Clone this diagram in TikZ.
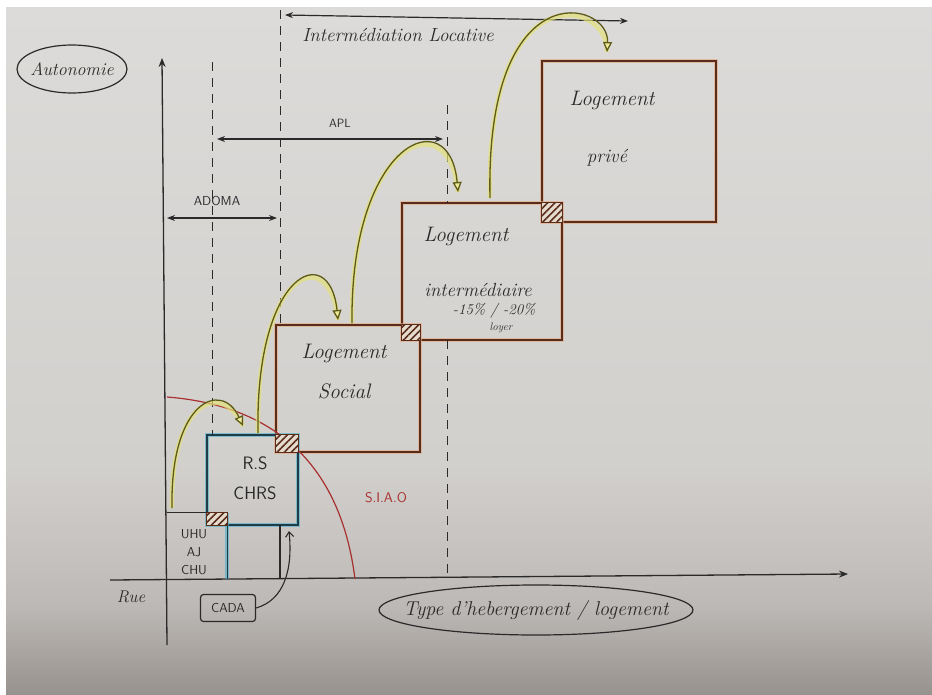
\documentclass[tikz,border=0pt]{standalone}
\usepackage{fontspec}
\usetikzlibrary{arrows.meta,patterns.meta,calc,shapes.geometric}
\definecolor{inkc}{HTML}{2A2A2A}
\definecolor{brownc}{HTML}{5A2C1C}
\definecolor{glowor}{HTML}{E3A67C}
\definecolor{tealc}{HTML}{1E3C4A}
\definecolor{tealglow}{HTML}{4AAFC8}
\definecolor{olivec}{HTML}{5E5A18}
\definecolor{yglow}{HTML}{E4E27A}
\definecolor{yfill}{HTML}{EDEB9A}
\definecolor{redc}{HTML}{A8302E}
\definecolor{hatchbg}{HTML}{E6DCCD}
\definecolor{ptop}{HTML}{DDDBD9}
\definecolor{pmid}{HTML}{D2D0CD}
\definecolor{plow}{HTML}{BDB9B6}
\definecolor{pbot}{HTML}{948F8B}
\pgfdeclareverticalshading{papershade}{100bp}{color(0bp)=(pbot); color(25bp)=(pbot); color(32bp)=(plow); color(42bp)=(pmid); color(75bp)=(ptop); color(100bp)=(ptop)}
\tikzset{
  hand/.style={text=inkc, font=\itshape},
  caps/.style={text=inkc, font=\sffamily},
  axisline/.style={draw=inkc, line width=1.3pt, -{Stealth[length=9pt,width=7pt]}},
  guide/.style={draw=inkc, line width=1pt, dash pattern=on 9pt off 7pt},
  span/.style={draw=inkc, line width=1.2pt, {Stealth[length=8pt,width=6pt]}-{Stealth[length=8pt,width=6pt]}},
  housing/.style={rectangle, inner sep=0pt, draw=brownc, line width=1.4pt, preaction={draw=glowor, line width=4.5pt, draw opacity=0.6}},
  shelter/.style={rectangle, inner sep=0pt, draw=tealc, line width=1.4pt, preaction={draw=tealglow, line width=4.5pt, draw opacity=0.6}},
  hatchsq/.style={draw=brownc, line width=1.2pt, preaction={fill=hatchbg}, pattern={Lines[angle=45,distance=5pt,line width=1.6pt]}, pattern color=brownc},
  jump/.style={draw=olivec, line width=1.3pt, -{Triangle[length=10pt,width=9pt,fill=yfill]}, preaction={draw=yglow, line width=4.5pt, draw opacity=0.7, arrows=-}},
  siao/.style={draw=redc, line width=1.2pt},
  label/.style={draw=inkc, line width=1.2pt}
}
\begin{document}
\begin{tikzpicture}[x=1pt, y=-1pt]
\useasboundingbox (0,0) rectangle (932,694);
\fill[white] (0,0) rectangle (932,694);
\fill[pbot] (6,640) rectangle (932,694);
\shade[shading=papershade] (6,7) rectangle (940,702);

% axes
\coordinate (yb) at (167,645);
\coordinate (yt) at (162,58);
\coordinate (xl) at (110,580);
\coordinate (xr) at (848,574);
\draw[axisline] (yb) -- (yt);
\draw[axisline] (xl) -- (xr);

% boxes
\node[housing, minimum width=174, minimum height=161] (prive) at (629,141.5) {};
\node[housing, minimum width=160, minimum height=137] (inter) at (482,271.5) {};
\node[housing, minimum width=144, minimum height=127] (social) at (348,388.5) {};
\node[shelter, minimum width=91, minimum height=90] (rs) at (252.5,480) {};
\node[minimum width=60, minimum height=66, inner sep=0pt] (uhu) at (197,546) {};

% red SIAO curve
\coordinate (s0) at (167,397);
\coordinate (s1) at (355,579);
\draw[siao] (s0) .. controls (270,405) and (340,460) .. (s1);

% dashed guides
\coordinate (g1t) at (212,62);
\coordinate (g1b) at (212,435);
\coordinate (g2t) at (280,10);
\coordinate (g2b) at (280,325);
\coordinate (g3t) at (447,105);
\coordinate (g3m) at (447,203);
\coordinate (g3n) at (447,340);
\coordinate (g3b) at (447,578);
\draw[guide] (g1t) -- (g1b);
\draw[guide] (g2t) -- (g2b);
\draw[guide] (g3t) -- (g3m);
\draw[guide] (g3n) -- (g3b);

% UHU box sides
\draw[draw=inkc, line width=1.3pt] (uhu.north west) -- (uhu.north east);
\draw[draw=tealc, line width=1.3pt, preaction={draw=tealglow, line width=4pt, draw opacity=0.6}] (uhu.north east) -- (uhu.south east);
\coordinate (rsb) at (280,525);
\coordinate (rsa) at (280,579);
\draw[draw=inkc, line width=1.3pt] (rsb) -- (rsa);

% hatched overlaps
\draw[hatchsq] (rs.south west) rectangle (uhu.north east);
\draw[hatchsq] (social.south west) rectangle (rs.north east);
\draw[hatchsq] (inter.south west) rectangle (social.north east);
\draw[hatchsq] (prive.south west) rectangle (inter.north east);

% span arrows
\coordinate (il1) at (285,15);
\coordinate (il2) at (628,21);
\draw[span] (il1) -- (il2);
\node[hand, font=\fontsize{19}{22}\selectfont\itshape] (iltxt) at (398,35) {Intermédiation Locative};
\coordinate (ap1) at (217,139);
\coordinate (ap2) at (443,139);
\draw[span] (ap1) -- (ap2);
\node[caps, font=\fontsize{12}{14}\selectfont\sffamily] (aptxt) at (340,123) {APL};
\coordinate (ad1) at (167,218);
\coordinate (ad2) at (277,218);
\draw[span] (ad1) -- (ad2);
\node[caps, font=\fontsize{13}{15}\selectfont\sffamily] (adtxt) at (217,201) {ADOMA};

% yellow jumps
\coordinate (j1s) at (172,508);
\coordinate (j1e) at (243,426);
\coordinate (j2s) at (258,433);
\coordinate (j2e) at (338,320);
\coordinate (j3s) at (352,323);
\coordinate (j3e) at (458,192);
\coordinate (j4s) at (490,198);
\coordinate (j4e) at (607,52);
\draw[jump] (j1s) .. controls (170,400) and (222,380) .. (j1e);
\draw[jump] (j2s) .. controls (255,270) and (330,240) .. (j2e);
\draw[jump] (j3s) .. controls (350,140) and (450,100) .. (j3e);
\draw[jump] (j4s) .. controls (485,-30) and (610,0) .. (j4e);

% labels
\node[label, ellipse, minimum width=110, minimum height=48, inner sep=0pt] (auto) at (72,69) {};
\node[hand, font=\fontsize{18}{20}\selectfont\itshape] (autotxt) at (auto.center) {Autonomie};
\node[hand, font=\fontsize{17}{20}\selectfont\itshape] (rue) at (131,597) {Rue};
\node[label, rounded corners=3pt, minimum width=55, minimum height=27, inner sep=0pt, caps, font=\fontsize{13}{15}\selectfont\sffamily] (cada) at (228,608) {CADA};
\coordinate (cadaend) at (289,531);
\draw[draw=inkc, line width=1.1pt, -{Straight Barb[length=5pt,width=8pt]}] (cada.east) .. controls (284,600) and (293,570) .. (cadaend);
\node[label, ellipse, minimum width=314, minimum height=50, inner sep=0pt] (type) at (536,610) {};
\node[hand, font=\fontsize{20}{24}\selectfont\itshape] (typetxt) at (type.center) {Type d'hebergement / logement};
\node[text=redc, font=\fontsize{14}{16}\selectfont\sffamily] (siaotxt) at (386,498) {S.I.A.O};

% box texts
\node[caps, align=center, font=\fontsize{13}{18}\selectfont\sffamily] (uhutxt) at (194,552) {UHU\\AJ\\CHU};
\node[caps, align=center, font=\fontsize{18}{30}\selectfont\sffamily] (rstxt) at (255,478) {R.S\\CHRS};
\node[hand, align=center, font=\fontsize{21}{40}\selectfont\itshape] (soctxt) at (344,372) {Logement\\Social};
\node[hand, font=\fontsize{21}{24}\selectfont\itshape] (inttxt1) at (466,236) {Logement};
\node[hand, font=\fontsize{19}{22}\selectfont\itshape] (inttxt2) at (478,290) {intermédiaire};
\node[hand, font=\fontsize{15}{18}\selectfont\itshape] (inttxt3) at (494,311) {-15\% / -20\%};
\node[hand, font=\fontsize{11}{13}\selectfont\itshape] (inttxt4) at (501,328) {loyer};
\node[hand, font=\fontsize{21}{24}\selectfont\itshape] (prtxt1) at (612,100) {Logement};
\node[hand, font=\fontsize{19}{22}\selectfont\itshape] (prtxt2) at (607,158) {privé};
\end{tikzpicture}
\end{document}
